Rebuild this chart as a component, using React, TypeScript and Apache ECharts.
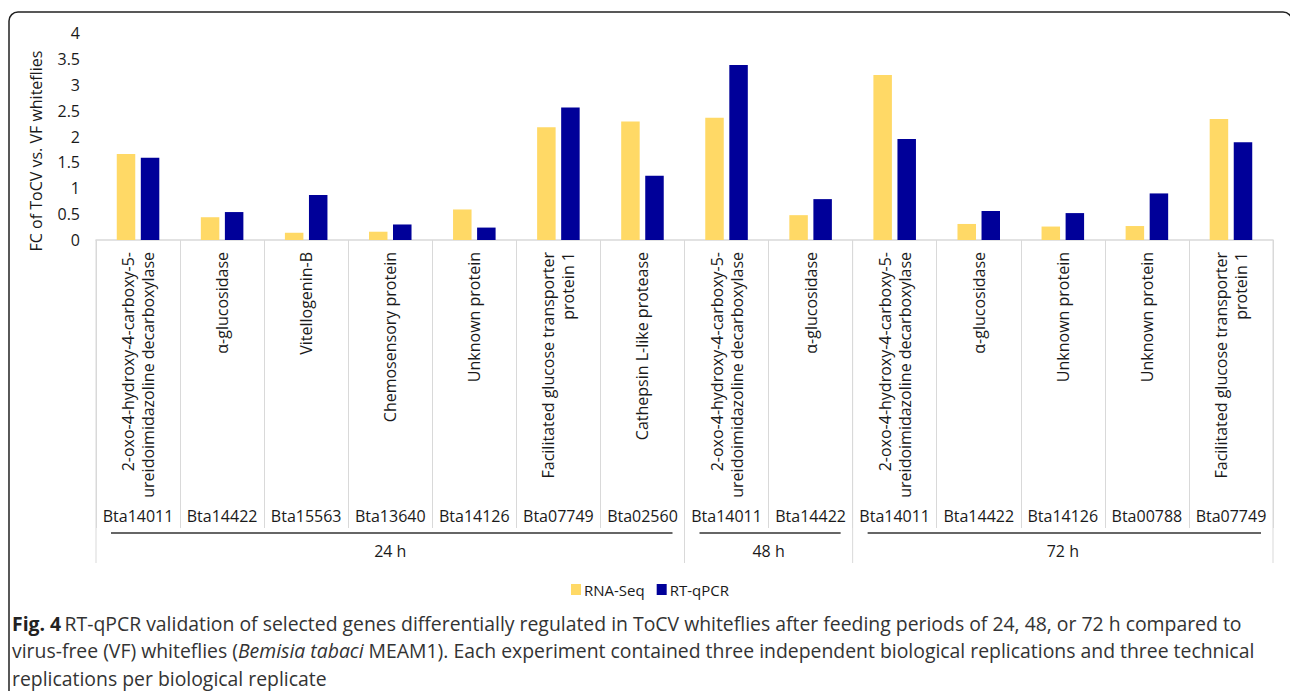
import React, { useEffect, useRef } from "react";
import * as echarts from "echarts";

const genes = [
  "2-oxo-4-hydroxy-4-carboxy-5-\nureidoimidazoline decarboxylase",
  "α-glucosidase",
  "Vitellogenin-B",
  "Chemosensory protein",
  "Unknown protein",
  "Facilitated glucose transporter\nprotein 1",
  "Cathepsin L-like protease",
  "2-oxo-4-hydroxy-4-carboxy-5-\nureidoimidazoline decarboxylase",
  "α-glucosidase",
  "2-oxo-4-hydroxy-4-carboxy-5-\nureidoimidazoline decarboxylase",
  "α-glucosidase",
  "Unknown protein",
  "Unknown protein",
  "Facilitated glucose transporter\nprotein 1",
];
const geneIds = [
  "Bta14011", "Bta14422", "Bta15563", "Bta13640", "Bta14126", "Bta07749", "Bta02560",
  "Bta14011", "Bta14422",
  "Bta14011", "Bta14422", "Bta14126", "Bta00788", "Bta07749",
];
const rnaSeq = [1.66, 0.44, 0.14, 0.16, 0.59, 2.18, 2.29, 2.36, 0.48, 3.19, 0.31, 0.26, 0.27, 2.34];
const rtQpcr = [1.59, 0.54, 0.87, 0.30, 0.24, 2.56, 1.24, 3.38, 0.79, 1.95, 0.56, 0.52, 0.90, 1.89];
const groupLabels = ["24 h", "48 h", "72 h"];
const groupSizes = [7, 2, 5];
const seriesNames = ["RNA-Seq", "RT-qPCR"];
const yTitle = "FC of ToCV vs. VF whiteflies";
const captionLines = [
  "{b|Fig. 4} {n|RT-qPCR validation of selected genes differentially regulated in ToCV whiteflies after feeding periods of 24, 48, or 72 h compared to}",
  "{n|virus-free (VF) whiteflies (}{i|Bemisia tabaci}{n| MEAM1). Each experiment contained three independent biological replications and three technical}",
  "{n|replications per biological replicate}",
];

const FONT = "'Open Sans', 'Noto Sans', sans-serif";
const TXT = "#1a1a1a";
const CAP = 19.4;

export default function App() {
  const ref = useRef<HTMLDivElement>(null);
  useEffect(() => {
    if (!ref.current) return;
    const chart = echarts.init(ref.current, null, { renderer: "svg" });
    const idx = genes.map((_, i) => String(i));
    chart.setOption({
      animation: false,
      backgroundColor: "#ffffff",
      grid: { left: 96, right: 17, top: 33, bottom: 451, containLabel: false },
      legend: {
        data: seriesNames,
        left: 566,
        top: 577,
        itemWidth: 10,
        itemHeight: 11,
        itemGap: 12,
        icon: "rect",
        textStyle: { fontFamily: FONT, fontSize: 15, color: TXT, padding: [0, 0, 0, -2] },
      },
      xAxis: [
        {
          type: "category",
          data: idx,
          boundaryGap: true,
          axisLine: { show: true, lineStyle: { color: "#D9D9D9", width: 1.5 } },
          axisTick: { show: true, length: 288, interval: 0, lineStyle: { color: "#D9D9D9", width: 1 } },
          axisLabel: {
            interval: 0,
            rotate: 90,
            margin: 12,
            fontFamily: FONT,
            fontSize: 16,
            lineHeight: 20,
            color: TXT,
            formatter: (v: string) => genes[Number(v)],
          },
        },
        {
          type: "category",
          data: idx,
          position: "bottom",
          axisLine: { show: false },
          axisTick: { show: false },
          axisLabel: {
            interval: 0,
            margin: 268,
            fontFamily: FONT,
            fontSize: 16,
            color: TXT,
            formatter: (v: string) => geneIds[Number(v)],
          },
        },
      ],
      yAxis: {
        type: "value",
        min: 0,
        max: 4,
        interval: 0.5,
        axisLine: { show: false },
        axisTick: { show: false },
        splitLine: { show: false },
        axisLabel: { fontFamily: FONT, fontSize: 16, color: TXT, margin: 16 },
      },
      series: [
        {
          name: seriesNames[0],
          type: "bar",
          data: rnaSeq,
          barWidth: 18.5,
          barGap: "30%",
          itemStyle: { color: "#FFD966" },
        },
        {
          name: seriesNames[1],
          type: "bar",
          data: rtQpcr,
          barWidth: 18.5,
          barGap: "30%",
          itemStyle: { color: "#000099" },
        },
      ],
    });

    const px = (i: number) => chart.convertToPixel({ xAxisIndex: 0 }, String(i)) as number;
    const band = px(1) - px(0);
    const yAxis0 = chart.convertToPixel({ yAxisIndex: 0 }, 0) as number;
    const elements: any[] = [];
    elements.push({
      type: "rect",
      shape: { x: 9, y: 12, width: 1283, height: 720, r: 9 },
      style: { fill: "none", stroke: "#222", lineWidth: 1.5 },
      silent: true,
      z: 0,
    });
    let start = 0;
    const boundaries: number[] = [px(0) - band / 2];
    groupSizes.forEach((n, g) => {
      const left = px(start) - band / 2;
      const right = px(start + n - 1) + band / 2;
      boundaries.push(right);
      elements.push({
        type: "line",
        shape: { x1: left + 15, y1: yAxis0 + 293, x2: right - 12, y2: yAxis0 + 293 },
        style: { stroke: "#333", lineWidth: 1.5 },
        silent: true,
      });
      elements.push({
        type: "text",
        x: (left + right) / 2,
        y: yAxis0 + 311,
        style: {
          text: groupLabels[g],
          fontFamily: FONT,
          fontSize: 16,
          fill: TXT,
          align: "center",
          verticalAlign: "middle",
        },
        silent: true,
      });
      start += n;
    });
    boundaries.forEach((b) => {
      elements.push({
        type: "line",
        shape: { x1: b, y1: yAxis0, x2: b, y2: yAxis0 + 323 },
        style: { stroke: "#D9D9D9", lineWidth: 1 },
        silent: true,
      });
    });
    elements.push({
      type: "text",
      x: 36,
      y: 151,
      rotation: Math.PI / 2,
      style: {
        text: yTitle,
        fontFamily: FONT,
        fontSize: 16,
        fill: TXT,
        align: "center",
        verticalAlign: "middle",
      },
      silent: true,
    });
    captionLines.forEach((line, k) => {
      elements.push({
        type: "text",
        x: 12,
        y: 623 + k * 27.5,
        style: {
          text: line,
          align: "left",
          verticalAlign: "middle",
          rich: {
            b: { fontFamily: FONT, fontSize: CAP, fontWeight: "bold", fill: "#222" },
            n: { fontFamily: FONT, fontSize: CAP, fill: "#333" },
            i: { fontFamily: FONT, fontSize: CAP, fontStyle: "italic", fill: "#333" },
          },
        },
        silent: true,
      });
    });
    chart.setOption({ graphic: { elements } });
    return () => chart.dispose();
  }, []);
  return (
    <div
      ref={ref}
      style={{ position: "fixed", left: 0, top: 0, width: 1290, height: 691 }}
    />
  );
}
